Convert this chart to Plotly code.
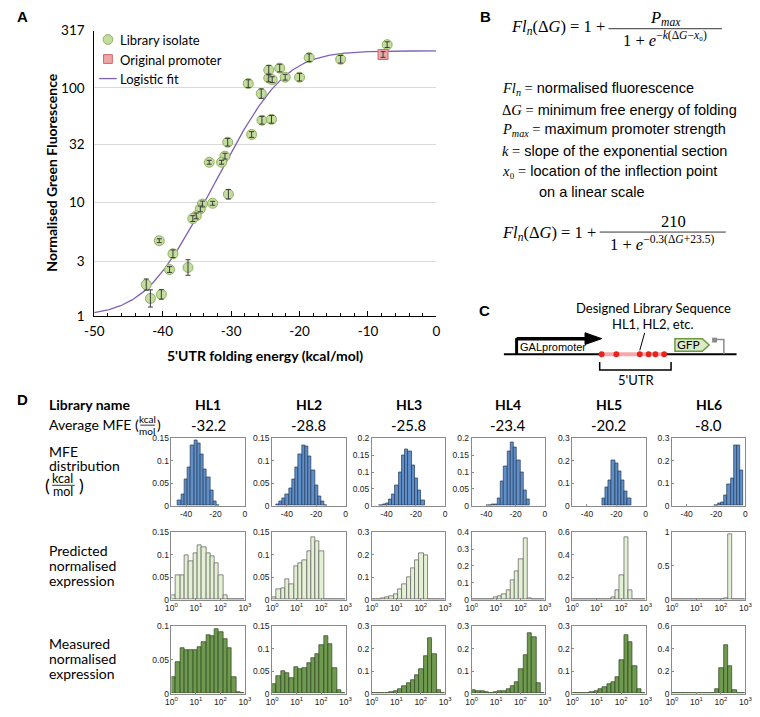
import numpy as np
import plotly.graph_objects as go

W, H = 760, 717
OFF = 8  # the page body adds an 8px margin around the plot div

# ---------------- panel A : library isolates ----------------
iso_mfe = [-7.2, -18.6, -14.0, -22.9, -24.5, -24.5, -24.0, -22.1, -20.0, -27.5,
           -25.6, -25.5, -24.1, -27.0, -30.5, -30.9, -31.4, -33.2, -30.4, -32.7,
           -34.2, -34.5, -35.1, -35.6, -40.5, -38.5, -39.0, -36.3, -42.4, -41.8, -40.2]
iso_fl = [239, 184, 178, 149, 143, 122, 118, 124, 124, 109,
          89, 52, 53, 39, 33.4, 25.2, 22.3, 22.3, 11.7, 9.75,
          9.6, 8.7, 7.55, 7.16, 4.58, 3.52, 2.56, 2.67, 1.89, 1.43, 1.55]
# multiplicative error (upper = y*f, lower = y/f)
iso_err = [1.06, 1.08, 1.08, 1.08, 1.10, 1.08, 1.06, 1.06, 1.08, 1.08,
           1.10, 1.08, 1.08, 1.06, 1.08, 1.06, 1.04, 1.04, 1.10, 1.04,
           1.06, 1.06, 1.06, 1.06, 1.04, 1.08, 1.06, 1.17, 1.12, 1.19, 1.10]
orig_mfe = [-7.8]
orig_fl = [196]
orig_err = [1.06]

# logistic fit parameters (panel B)
P_MAX, K_SLOPE, X0 = 210, 0.3, -23.5

# ---------------- panel D : libraries ----------------
libs = ["HL1", "HL2", "HL3", "HL4", "HL5", "HL6"]
avg_mfe = ["-32.2", "-28.8", "-25.8", "-23.4", "-20.2", "-8.0"]

mfe_bin = 2.2
mfe_first_edge = [-45.6, -47.4, -45.0, -38.9, -29.8, -21.1]
mfe_freq = [
    [0.012, 0.025, 0.059, 0.086, 0.135, 0.145, 0.139, 0.115, 0.081, 0.063, 0.034, 0.009, 0.002],
    [0.003, 0.009, 0.016, 0.025, 0.038, 0.059, 0.086, 0.114, 0.134, 0.132, 0.110, 0.078, 0.045, 0.020, 0.010, 0.001],
    [0.002, 0.004, 0.008, 0.018, 0.035, 0.060, 0.100, 0.150, 0.166, 0.160, 0.120, 0.080, 0.045, 0.015],
    [0.002, 0.005, 0.004, 0.021, 0.074, 0.116, 0.161, 0.188, 0.173, 0.134, 0.099, 0.047, 0.018],
    [0.035, 0.080, 0.112, 0.203, 0.191, 0.155, 0.112, 0.065, 0.035],
    [0.003, 0.010, 0.014, 0.046, 0.097, 0.123, 0.268, 0.271, 0.159],
]

# expression histograms: 17 equal log bins between 10^0 and 10^3
n_log_bins = 17
pred_freq = [
    [0.011, 0.054, 0.054, 0.099, 0.086, 0.104, 0.121, 0.117, 0.104, 0.096, 0.080, 0.054, 0.011, 0.001, 0, 0, 0],
    [0.006, 0.024, 0.026, 0.046, 0.035, 0.075, 0.082, 0.088, 0.107, 0.139, 0.130, 0.107, 0.002, 0, 0, 0, 0],
    [0.001, 0.003, 0.006, 0.010, 0.016, 0.024, 0.045, 0.070, 0.100, 0.138, 0.176, 0.206, 0.198, 0.003, 0, 0, 0],
    [0, 0, 0, 0.002, 0.004, 0.016, 0.022, 0.035, 0.055, 0.114, 0.170, 0.240, 0.363, 0.010, 0, 0, 0],
    [0, 0, 0, 0, 0, 0, 0, 0, 0, 0.020, 0.088, 0.218, 0.560, 0.088, 0, 0, 0],
    [0, 0, 0, 0, 0, 0, 0, 0, 0, 0, 0, 0, 0.020, 0.970, 0, 0, 0],
]
meas_freq = [
    [0.025, 0.047, 0.068, 0.065, 0.065, 0.064, 0.069, 0.076, 0.087, 0.085, 0.095, 0.091, 0.080, 0.067, 0.025, 0.0015, 0],
    [0.020, 0.038, 0.049, 0.046, 0.035, 0.058, 0.054, 0.057, 0.067, 0.078, 0.088, 0.107, 0.128, 0.109, 0.057, 0.007, 0],
    [0.004, 0.003, 0.002, 0.004, 0.006, 0.010, 0.020, 0.035, 0.045, 0.060, 0.080, 0.110, 0.165, 0.245, 0.175, 0.015, 0],
    [0.016, 0.011, 0.009, 0.006, 0.004, 0.007, 0.009, 0.010, 0.020, 0.035, 0.050, 0.110, 0.170, 0.270, 0.250, 0.045, 0],
    [0.004, 0.004, 0.003, 0.004, 0.006, 0.010, 0.020, 0.030, 0.040, 0.050, 0.075, 0.150, 0.260, 0.230, 0.120, 0.020, 0],
    [0.003, 0.002, 0.002, 0.002, 0.003, 0.003, 0.002, 0.003, 0.004, 0.008, 0.040, 0.230, 0.430, 0.240, 0.030, 0.003, 0],
]

# axis ranges for the small panels
row_ymax = [[0.15, 0.15, 0.2, 0.2, 0.3, 0.3],
            [0.15, 0.15, 0.3, 0.4, 0.6, 1.0],
            [0.1, 0.15, 0.3, 0.3, 0.3, 0.6]]
row_dtick = [[0.05, 0.05, 0.05, 0.05, 0.1, 0.1],
             [0.05, 0.05, 0.1, 0.1, 0.2, 0.5],
             [0.05, 0.05, 0.1, 0.1, 0.1, 0.2]]
row_fill = ["#5f8fc9", "#e4f0d4", "#6f9a50"]
row_edge = ["#253a57", "#5a5a5a", "#2c4420"]

GREEN_FILL, GREEN_EDGE = "#c5dca0", "#8fb35c"
RED_FILL, RED_EDGE = "#eda6a6", "#d06767"
FIT_COLOR = "#7d62b6"


def fx(x):
    return (x - OFF) / W


def fy(y):
    return 1 - (y - OFF) / H


annotations = []
shapes = []


def note(x, y, text, size=13, family="Lato", xanchor="left", color="black", **kw):
    annotations.append(dict(x=fx(x), y=fy(y), xref="paper", yref="paper", text=text,
                            showarrow=False, xanchor=xanchor, yanchor="middle",
                            font=dict(size=size, family=family, color=color), **kw))


def seg(x0, y0, x1, y1, color="black", width=1):
    shapes.append(dict(type="line", xref="paper", yref="paper", x0=fx(x0), y0=fy(y0),
                       x1=fx(x1), y1=fy(y1), line=dict(color=color, width=width)))


def path(points, close=False, fill=None, color="black", width=1):
    d = "M" + " L".join(f"{fx(a):.5f},{fy(b):.5f}" for a, b in points) + (" Z" if close else "")
    s = dict(type="path", xref="paper", yref="paper", path=d, line=dict(color=color, width=width))
    if fill:
        s["fillcolor"] = fill
    shapes.append(s)


def box(kind, cx, cy, r, fill, edge):
    shapes.append(dict(type=kind, xref="paper", yref="paper",
                       x0=fx(cx - r), x1=fx(cx + r), y0=fy(cy + r), y1=fy(cy - r),
                       fillcolor=fill, line=dict(color=edge, width=1)))


fig = go.Figure()

# ---------------- panel A ----------------
x_fit = np.linspace(-50, 0, 300)
y_fit = 1 + P_MAX / (1 + np.exp(-K_SLOPE * (x_fit - X0)))

fig.add_trace(go.Scatter(x=x_fit, y=y_fit, mode="lines", name="Logistic fit",
                         line=dict(color=FIT_COLOR, width=1.3), xaxis="x", yaxis="y"))
fig.add_trace(go.Scatter(
    x=iso_mfe, y=iso_fl, mode="markers", name="Library isolate",
    marker=dict(size=10, color=GREEN_FILL, line=dict(color=GREEN_EDGE, width=1)),
    xaxis="x", yaxis="y"))
fig.add_trace(go.Scatter(
    x=orig_mfe, y=orig_fl, mode="markers", name="Original promoter",
    marker=dict(size=10, symbol="square", color=RED_FILL, line=dict(color=RED_EDGE, width=1)),
    xaxis="x", yaxis="y"))

# error bars drawn on top of the markers
err_x = iso_mfe + orig_mfe
err_y = iso_fl + orig_fl
err_f = iso_err + orig_err
fig.add_trace(go.Scatter(
    x=err_x, y=err_y, mode="markers", hoverinfo="skip",
    marker=dict(size=1, color="rgba(0,0,0,0)"),
    error_y=dict(type="data", symmetric=False,
                 array=[v * f - v for v, f in zip(err_y, err_f)],
                 arrayminus=[v - v / f for v, f in zip(err_y, err_f)],
                 color="#3a3a3a", thickness=1, width=2.5),
    xaxis="x", yaxis="y"))

layout_axes = dict(
    xaxis=dict(domain=[fx(86), fx(436)], range=[-50, 0], anchor="y",
               tickvals=[-50, -40, -30, -20, -10, 0],
               ticktext=["-50", "-40", "-30", "-20", "-10", "0"],
               ticks="inside", ticklen=5, ticklabelstandoff=3,
               tickcolor="black", showline=True, linecolor="black", linewidth=1,
               showgrid=False, zeroline=False,
               minor=dict(dtick=2, ticks="inside", ticklen=3, tickcolor="black"),
               tickfont=dict(family="Lato", size=13.5, color="black")),
    yaxis=dict(domain=[fy(315), fy(23)], type="log", range=[0, np.log10(317)], anchor="x",
               tickvals=[1, 3, 10, 32, 100, 317], ticktext=["1", "3", "10", "32", "100", "317"],
               showline=True, linecolor="black", linewidth=1, ticks="", ticklabelstandoff=6,
               showgrid=True, gridcolor="#d9d9d9", gridwidth=1, zeroline=False,
               tickfont=dict(family="Lato", size=13.5, color="black")),
)

# legend of panel A
box("circle", 100, 32, 5, GREEN_FILL, GREEN_EDGE)
note(110, 33, "Library isolate", size=13)
box("rect", 100, 52, 4.5, RED_FILL, RED_EDGE)
note(110, 53, "Original promoter", size=13)
seg(91, 72, 109, 72, color=FIT_COLOR, width=1.3)
note(110, 72, "Logistic fit", size=13)

note(42, 168, "<b>Normalised Green Fluorescence</b>", size=14, xanchor="center", textangle=-90)
note(261, 355, "<b>5'UTR folding energy (kcal/mol)</b>", size=14, xanchor="center")

# ---------------- panel D histograms ----------------
col_left = [165, 268, 370, 472, 575, 677]
row_top = [440, 536, 632]
box_w, box_h = 75, 69
log_w = 3 / n_log_bins
log_centers = [(i + 0.5) * log_w for i in range(n_log_bins)]

ax = 2
for r in range(3):
    for c in range(6):
        if r == 0:
            xs = [mfe_first_edge[c] + mfe_bin * (i + 0.5) for i in range(len(mfe_freq[c]))]
            ys = mfe_freq[c]
            bw = mfe_bin
        else:
            xs = log_centers
            ys = pred_freq[c] if r == 1 else meas_freq[c]
            bw = log_w
        fig.add_trace(go.Bar(x=xs, y=ys, width=bw,
                             marker=dict(color=row_fill[r], line=dict(color=row_edge[r], width=0.7)),
                             xaxis=f"x{ax}", yaxis=f"y{ax}"))
        xa = dict(domain=[fx(col_left[c]), fx(col_left[c] + box_w)], anchor=f"y{ax}",
                  showline=True, mirror=True, linecolor="#8a8a8a", linewidth=0.8,
                  ticks="inside", ticklen=2, tickcolor="#8a8a8a", showgrid=False, zeroline=False,
                  tickfont=dict(family="Liberation Sans", size=8.5, color="#222"))
        if r == 0:
            xa.update(range=[-50, 0], tickvals=[-40, -20, 0], ticktext=["-40", "-20", "0"])
        else:
            xa.update(range=[0, 3], tickvals=[0, 1, 2, 3],
                      ticktext=[f"10<sup>{k}</sup>" for k in range(4)])
        ya = dict(domain=[fy(row_top[r] + box_h), fy(row_top[r])], anchor=f"x{ax}",
                  range=[0, row_ymax[r][c]], dtick=row_dtick[r][c], tick0=0,
                  showline=True, mirror=True, linecolor="#8a8a8a", linewidth=0.8,
                  ticks="inside", ticklen=2, tickcolor="#8a8a8a", showgrid=False, zeroline=False,
                  tickfont=dict(family="Liberation Sans", size=8.5, color="#222"))
        layout_axes[f"xaxis{ax}"] = xa
        layout_axes[f"yaxis{ax}"] = ya
        ax += 1

# ---------------- panel labels ----------------
for lab, x, y in [("A", 13, 9), ("B", 486, 9), ("C", 485, 309), ("D", 13, 400)]:
    note(x, y, f"<b>{lab}</b>", size=15, family="Liberation Sans", xanchor="center")

# ---------------- panel B : equations ----------------
SERIF = "Liberation Serif"
SANS = "Liberation Sans"
note(610, 19, "<i>Fl</i><sub><i>n</i></sub>(Δ<i>G</i>) = 1 +", size=16.5, family=SERIF, xanchor="right")
note(670, 10, "<i>P</i><sub><i>max</i></sub>", size=16.5, family=SERIF, xanchor="center")
seg(612, 21, 728, 21, width=0.8)
note(670, 32, "1 + <i>e</i><sup>−<i>k</i>(Δ<i>G</i>−<i>x</i>₀)</sup>", size=16.5, family=SERIF, xanchor="center")

mspan = '<span style="font-family:Liberation Serif">'
defs = [
    (83, mspan + "<i>Fl</i><sub><i>n</i></sub> =</span> normalised fluorescence"),
    (104, mspan + "Δ<i>G</i> =</span> minimum free energy of folding"),
    (125, mspan + "<i>P</i><sub><i>max</i></sub> =</span> maximum promoter strength"),
    (146, mspan + "<i>k</i> =</span> slope of the exponential section"),
    (167, mspan + "<i>x</i>₀ =</span> location of the inflection point"),
]
for y, t in defs:
    note(501, y, t, size=14.5, family=SANS)
note(539, 188, "on a linear scale", size=14.5, family=SANS)

note(601, 230, "<i>Fl</i><sub><i>n</i></sub>(Δ<i>G</i>) = 1 +", size=16.5, family=SERIF, xanchor="right")
note(678, 218, "210", size=16.5, family=SERIF, xanchor="center")
seg(603, 229, 732, 229, width=0.8)
note(667, 241, "1 + <i>e</i><sup>−0.3(Δ<i>G</i>+23.5)</sup>", size=16.5, family=SERIF, xanchor="center")

# ---------------- panel C : construct diagram ----------------
note(658, 307, "Designed Library Sequence", size=13, xanchor="center")
note(658, 323, "HL1, HL2, etc.", size=13, xanchor="center")
seg(649, 332, 644, 350, width=1)
seg(505, 354, 743, 354, width=2)
seg(518, 354, 518, 337.5, width=3)
seg(518, 338, 591, 338, width=3.5)
path([(588, 332), (605, 338), (588, 344)], close=True, fill="black")
note(519, 346.5, "GALpromoter", size=11, family="Liberation Sans")
seg(605, 354, 669, 354, color="#f6a9a9", width=4)
for dx in [605, 620, 644, 653, 660, 669]:
    shapes.append(dict(type="circle", xref="paper", yref="paper",
                       x0=fx(dx - 3), x1=fx(dx + 3), y0=fy(354 + 3), y1=fy(354 - 3),
                       fillcolor="#e8231f", line=dict(width=0)))
path([(603, 362), (603, 370), (676, 370), (676, 362)], width=1.5)
note(640, 380, "5'UTR", size=13, xanchor="center")
path([(680, 338), (708, 338), (715, 344.5), (708, 351), (680, 351)], close=True,
     fill="#dcebc7", color="#6b9a42", width=1.5)
note(694, 344.5, "GFP", size=12, xanchor="center")
shapes.append(dict(type="rect", xref="paper", yref="paper", x0=fx(718), x1=fx(723),
                   y0=fy(342), y1=fy(337), fillcolor="#8a8a8a", line=dict(width=0)))
path([(723, 339), (730, 339), (730, 354)], color="#8a8a8a", width=1.5)

# ---------------- panel D : text ----------------
col_center = [l + box_w / 2 for l in col_left]
note(38, 405, "<b>Library name</b>", size=14)
for cx, lib, m in zip(col_center, libs, avg_mfe):
    note(cx, 405, f"<b>{lib}</b>", size=14, xanchor="center")
    note(cx, 426, m, size=15, xanchor="center")

note(38, 426, "Average MFE (", size=14)
note(140, 420.5, "kcal", size=10, xanchor="center")
seg(133, 426.5, 148, 426.5, width=0.8)
note(140, 432, "mol", size=10, xanchor="center")
note(148, 426, ")", size=14)

note(38, 453, "MFE", size=14)
note(38, 468, "distribution", size=14)
note(34, 488, "(", size=18)
note(54, 481, "kcal", size=12.5, xanchor="center")
seg(43, 488, 66, 488, width=0.8)
note(54, 494.5, "mol", size=12.5, xanchor="center")
note(68, 488, ")", size=18)

for y, t in [(555, "Predicted"), (570, "normalised"), (585, "expression"),
             (650, "Measured"), (665, "normalised"), (680, "expression")]:
    note(38, y, t, size=14)

fig.update_layout(
    width=W, height=H, margin=dict(l=0, r=0, t=0, b=0),
    paper_bgcolor="white", plot_bgcolor="white",
    bargap=0, barmode="overlay",
    showlegend=False,
    annotations=annotations, shapes=shapes,
    **layout_axes,
)

fig.write_html("out.html")
